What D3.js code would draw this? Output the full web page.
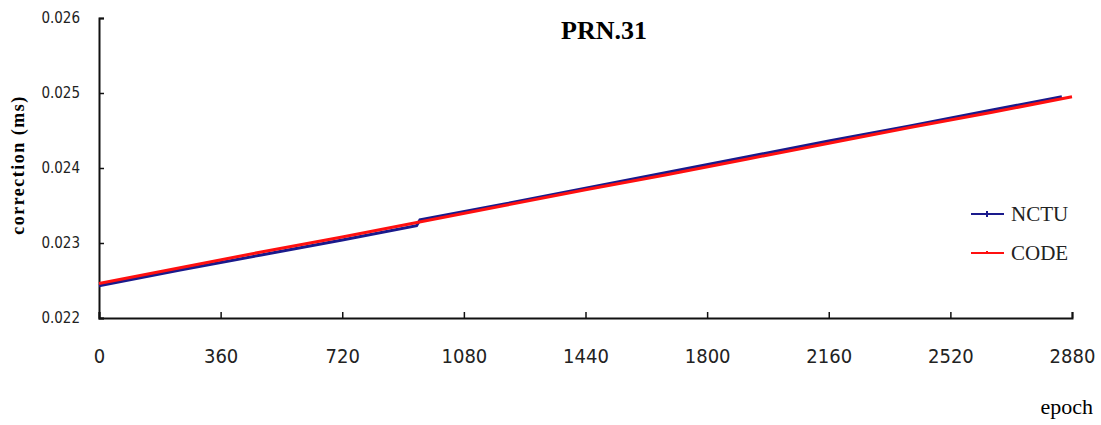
<!DOCTYPE html>
<html>
<head>
<meta charset="utf-8">
<script src="https://cdn.jsdelivr.net/npm/d3@7"></script>
<style>
  body { margin: 0; background: #fff; }
  .tick text { font-family: "Liberation Sans Narrow", "DejaVu Sans Condensed", sans-serif; fill: #222; }
</style>
</head>
<body>
<script>
// epochs / values
var codeEpoch = [0, 240, 480, 720, 960, 1200, 1440, 1680, 1920, 2160, 2400, 2640, 2880];
var codeValue = [0.02246, 0.02267, 0.02288, 0.02308, 0.02329, 0.02350, 0.02371, 0.02391, 0.02412, 0.02433, 0.02454, 0.02474, 0.02495];

var nctuEpoch = [0, 240, 480, 720, 940, 950, 1200, 1440, 1680, 1920, 2160, 2400, 2640, 2850];
var nctuValue = [0.02243, 0.02264, 0.02284, 0.02304, 0.02323, 0.02331, 0.02352, 0.02373, 0.02394, 0.02415, 0.02436, 0.02456, 0.02477, 0.02495];

var xTicks = [0, 360, 720, 1080, 1440, 1800, 2160, 2520, 2880];
var yTicks = [0.022, 0.023, 0.024, 0.025, 0.026];

var margin = {top: 18, right: 29, bottom: 107, left: 99},
    width = 1101 - margin.left - margin.right,
    height = 425 - margin.top - margin.bottom;

var x = d3.scaleLinear().domain([0, 2880]).range([0, width]);
var y = d3.scaleLinear().domain([0.022, 0.026]).range([height, 0]);

var svg = d3.select("body").append("svg")
    .attr("width", 1101)
    .attr("height", 425)
  .append("g")
    .attr("transform", "translate(" + margin.left + "," + margin.top + ")");

var xAxis = svg.append("g")
    .attr("transform", "translate(0," + height + ")")
    .call(d3.axisBottom(x).tickValues(xTicks).tickSize(-6).tickPadding(31).tickFormat(d3.format("d")));
xAxis.selectAll("text").style("font-size", "20px");

var yAxis = svg.append("g")
    .call(d3.axisLeft(y).tickValues(yTicks).tickSize(-5).tickPadding(19).tickFormat(d3.format(".3f")));
yAxis.selectAll("text").style("font-size", "15px");

svg.selectAll(".domain").attr("stroke", "#111").attr("stroke-width", 2);
svg.selectAll(".tick line").attr("stroke", "#111").attr("stroke-width", 1.5);

var line = d3.line()
    .x(function(d) { return x(d[0]); })
    .y(function(d) { return y(d[1]); });

svg.append("path")
    .datum(d3.zip(nctuEpoch, nctuValue))
    .attr("fill", "none")
    .attr("stroke", "#1a1a8c")
    .attr("stroke-width", 3)
    .attr("d", line);

svg.append("path")
    .datum(d3.zip(codeEpoch, codeValue))
    .attr("fill", "none")
    .attr("stroke", "#ff1010")
    .attr("stroke-width", 3)
    .attr("d", line);

// title
svg.append("text")
    .attr("x", 505)
    .attr("y", 21)
    .style("font-family", "Liberation Serif, serif")
    .style("font-weight", "bold")
    .style("font-size", "26px")
    .style("text-anchor", "middle")
    .text("PRN.31");

// y label
svg.append("text")
    .attr("transform", "translate(" + (24 - margin.left) + "," + 147 + ") rotate(-90)")
    .style("font-family", "Liberation Serif, serif")
    .style("font-weight", "bold")
    .style("font-size", "18px")
    .style("letter-spacing", "1.5px")
    .style("text-anchor", "middle")
    .text("correction (ms)");

// x label
svg.append("text")
    .attr("x", 1093 - margin.left)
    .attr("y", 414 - margin.top)
    .style("font-family", "Liberation Serif, serif")
    .style("font-size", "22px")
    .style("text-anchor", "end")
    .text("epoch");

// legend
var legend = [
  {name: "NCTU", color: "#1a1a8c", y: 214},
  {name: "CODE", color: "#ff1010", y: 253}
];
var lg = svg.selectAll(".legend")
    .data(legend)
  .enter().append("g")
    .attr("transform", function(d) { return "translate(" + (971 - margin.left) + "," + (d.y - margin.top) + ")"; });
lg.append("line")
    .attr("x1", 0).attr("x2", 33)
    .attr("stroke", function(d) { return d.color; })
    .attr("stroke-width", 2);
lg.append("rect")
    .attr("x", 15).attr("y", function(d, i) { return i ? -2 : -3; })
    .attr("width", 2).attr("height", function(d, i) { return i ? 3 : 6; })
    .attr("fill", function(d) { return d.color; });
lg.append("text")
    .attr("x", 40)
    .attr("dy", "0.35em")
    .style("font-family", "Liberation Serif, serif")
    .style("font-size", "21px")
    .style("fill", "#222")
    .text(function(d) { return d.name; });
</script>
</body>
</html>
